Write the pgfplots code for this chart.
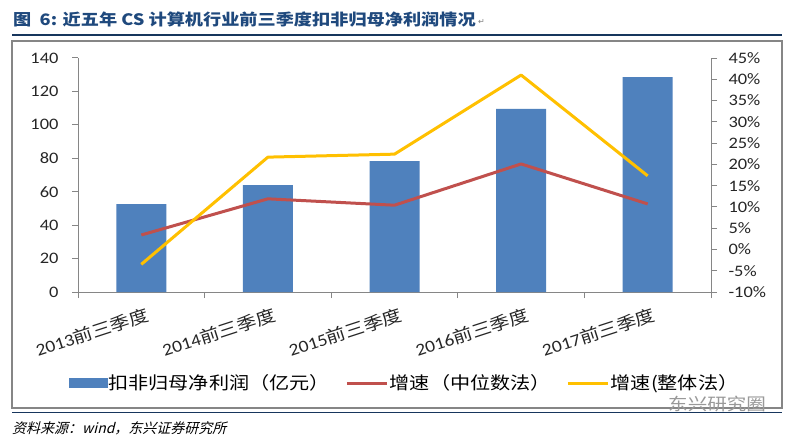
\documentclass[border=0pt]{standalone}
\usepackage{fontspec}
\setmainfont[FakeStretch=1.15]{Carlito}
\newfontfamily\cjk[FakeStretch=1.15]{Noto Sans CJK SC}
\newfontfamily\cjkit[FakeSlant=0.25]{Noto Sans CJK SC}
\newfontfamily\symfont{DejaVu Sans}
\usepackage{pgfplots}
\usepackage{pgfplotstable}
\pgfplotsset{compat=1.18}

\definecolor{barblue}{RGB}{79,129,189}
\definecolor{linered}{RGB}{192,80,77}
\definecolor{lineyel}{RGB}{255,192,0}
\definecolor{axgray}{RGB}{134,134,134}
\definecolor{titleblue}{RGB}{31,73,125}
\definecolor{rulenavy}{RGB}{23,54,93}

% profit: 扣非归母净利润 (亿元); median / whole: 增速 (%)
\pgfplotstableread{
x profit median whole
0 52.5   3.4  -3.5
1 64.0  11.9  21.7
2 78.3  10.4  22.4
3 109.5 20.1  41.0
4 128.5 10.7  17.3
}\datatable

\pgfplotsset{
  common/.style={
    at={(78pt,147pt)}, anchor=south west,
    scale only axis, width=633pt, height=234pt,
    xmin=-0.5, xmax=4.5,
    axis line style={-, axgray, line width=1pt},
    tick style={axgray, line width=1pt},
    major tick length=6pt, tick align=outside,
    ticklabel style={font=\fontsize{16}{18}\selectfont, text=black!85},
  },
  shortline/.style={legend image code/.code={\draw[##1] (0pt,0pt) -- (40pt,0pt);}},
  barswatch/.style={legend image code/.code={\fill[barblue] (0pt,-4.5pt) rectangle (38pt,4.5pt);}},
}

\begin{document}
\begin{tikzpicture}[x=1pt,y=1pt]
\fill[white] (0,0) rectangle (791,439);

% title and frame
\node[anchor=west, inner sep=0, text=titleblue,
      font=\cjk\bfseries\fontsize{15.8}{19}\selectfont] at (13,419)
  {图\ \ 6: 近五年 CS 计算机行业前三季度扣非归母净利润情况};
\node[anchor=west, inner sep=0, text=gray, font=\symfont\fontsize{8}{8}\selectfont] at (478,417) {↵};
\draw[rulenavy, line width=1.3pt] (12,404) -- (782,404);
\draw[axgray, line width=1.3pt] (12,31) rectangle (782,398);
\draw[rulenavy, line width=1pt] (12,27) -- (782,27);
\node[anchor=west, inner sep=0, font=\cjkit\fontsize{14}{16}\selectfont] at (12,11)
  {资料来源：wind，东兴证券研究所};
\node[anchor=west, inner sep=0, text=black!40, font=\cjk\fontsize{17}{19}\selectfont] at (668,35)
  {东兴研究圈};

% bars, left axis
\begin{axis}[common,
    ymin=0, ymax=140,
    axis x line*=bottom, axis y line*=left,
    ytick={0,20,...,140}, yticklabels={0,20,40,60,80,100,120,140},
    yticklabel style={xshift=-10pt},
    xtick={-0.5,0.5,...,4.5}, x tick label as interval,
    xticklabels={2013{\cjk 前三季度},2014{\cjk 前三季度},2015{\cjk 前三季度},
                 2016{\cjk 前三季度},2017{\cjk 前三季度}},
    xticklabel style={rotate=18, anchor=north east, xshift=5pt, yshift=-6pt,
      font=\fontsize{17}{19}\selectfont},
  ]
  \addplot[ybar, bar width=50pt, fill=barblue, draw=none] table[x=x, y=profit] {\datatable};
\end{axis}

% growth lines, right axis
\begin{axis}[common,
    ymin=-10, ymax=45,
    axis x line=none, axis y line*=right,
    ytick={-10,-5,...,45},
    yticklabels={-10\%,-5\%,0\%,5\%,10\%,15\%,20\%,25\%,30\%,35\%,40\%,45\%},
    yticklabel style={xshift=8pt},
    legend style={at={(-0.02,-0.389)}, anchor=west, legend columns=3,
      draw=none, fill=none, font=\cjk\fontsize{17.5}{21}\selectfont,
      nodes={inner sep=1.5pt},
      /tikz/every even column/.append style={column sep=14pt}},
  ]
  \addlegendimage{barswatch}
  \addlegendentry{扣非归母净利润（亿元）}
  \addplot[linered, line width=3pt, line join=round, shortline]
    table[x=x, y=median] {\datatable};
  \addlegendentry{增速（中位数法）}
  \addplot[lineyel, line width=3pt, line join=round, shortline]
    table[x=x, y=whole] {\datatable};
  \addlegendentry{增速(整体法）}
\end{axis}
\end{tikzpicture}
\end{document}
